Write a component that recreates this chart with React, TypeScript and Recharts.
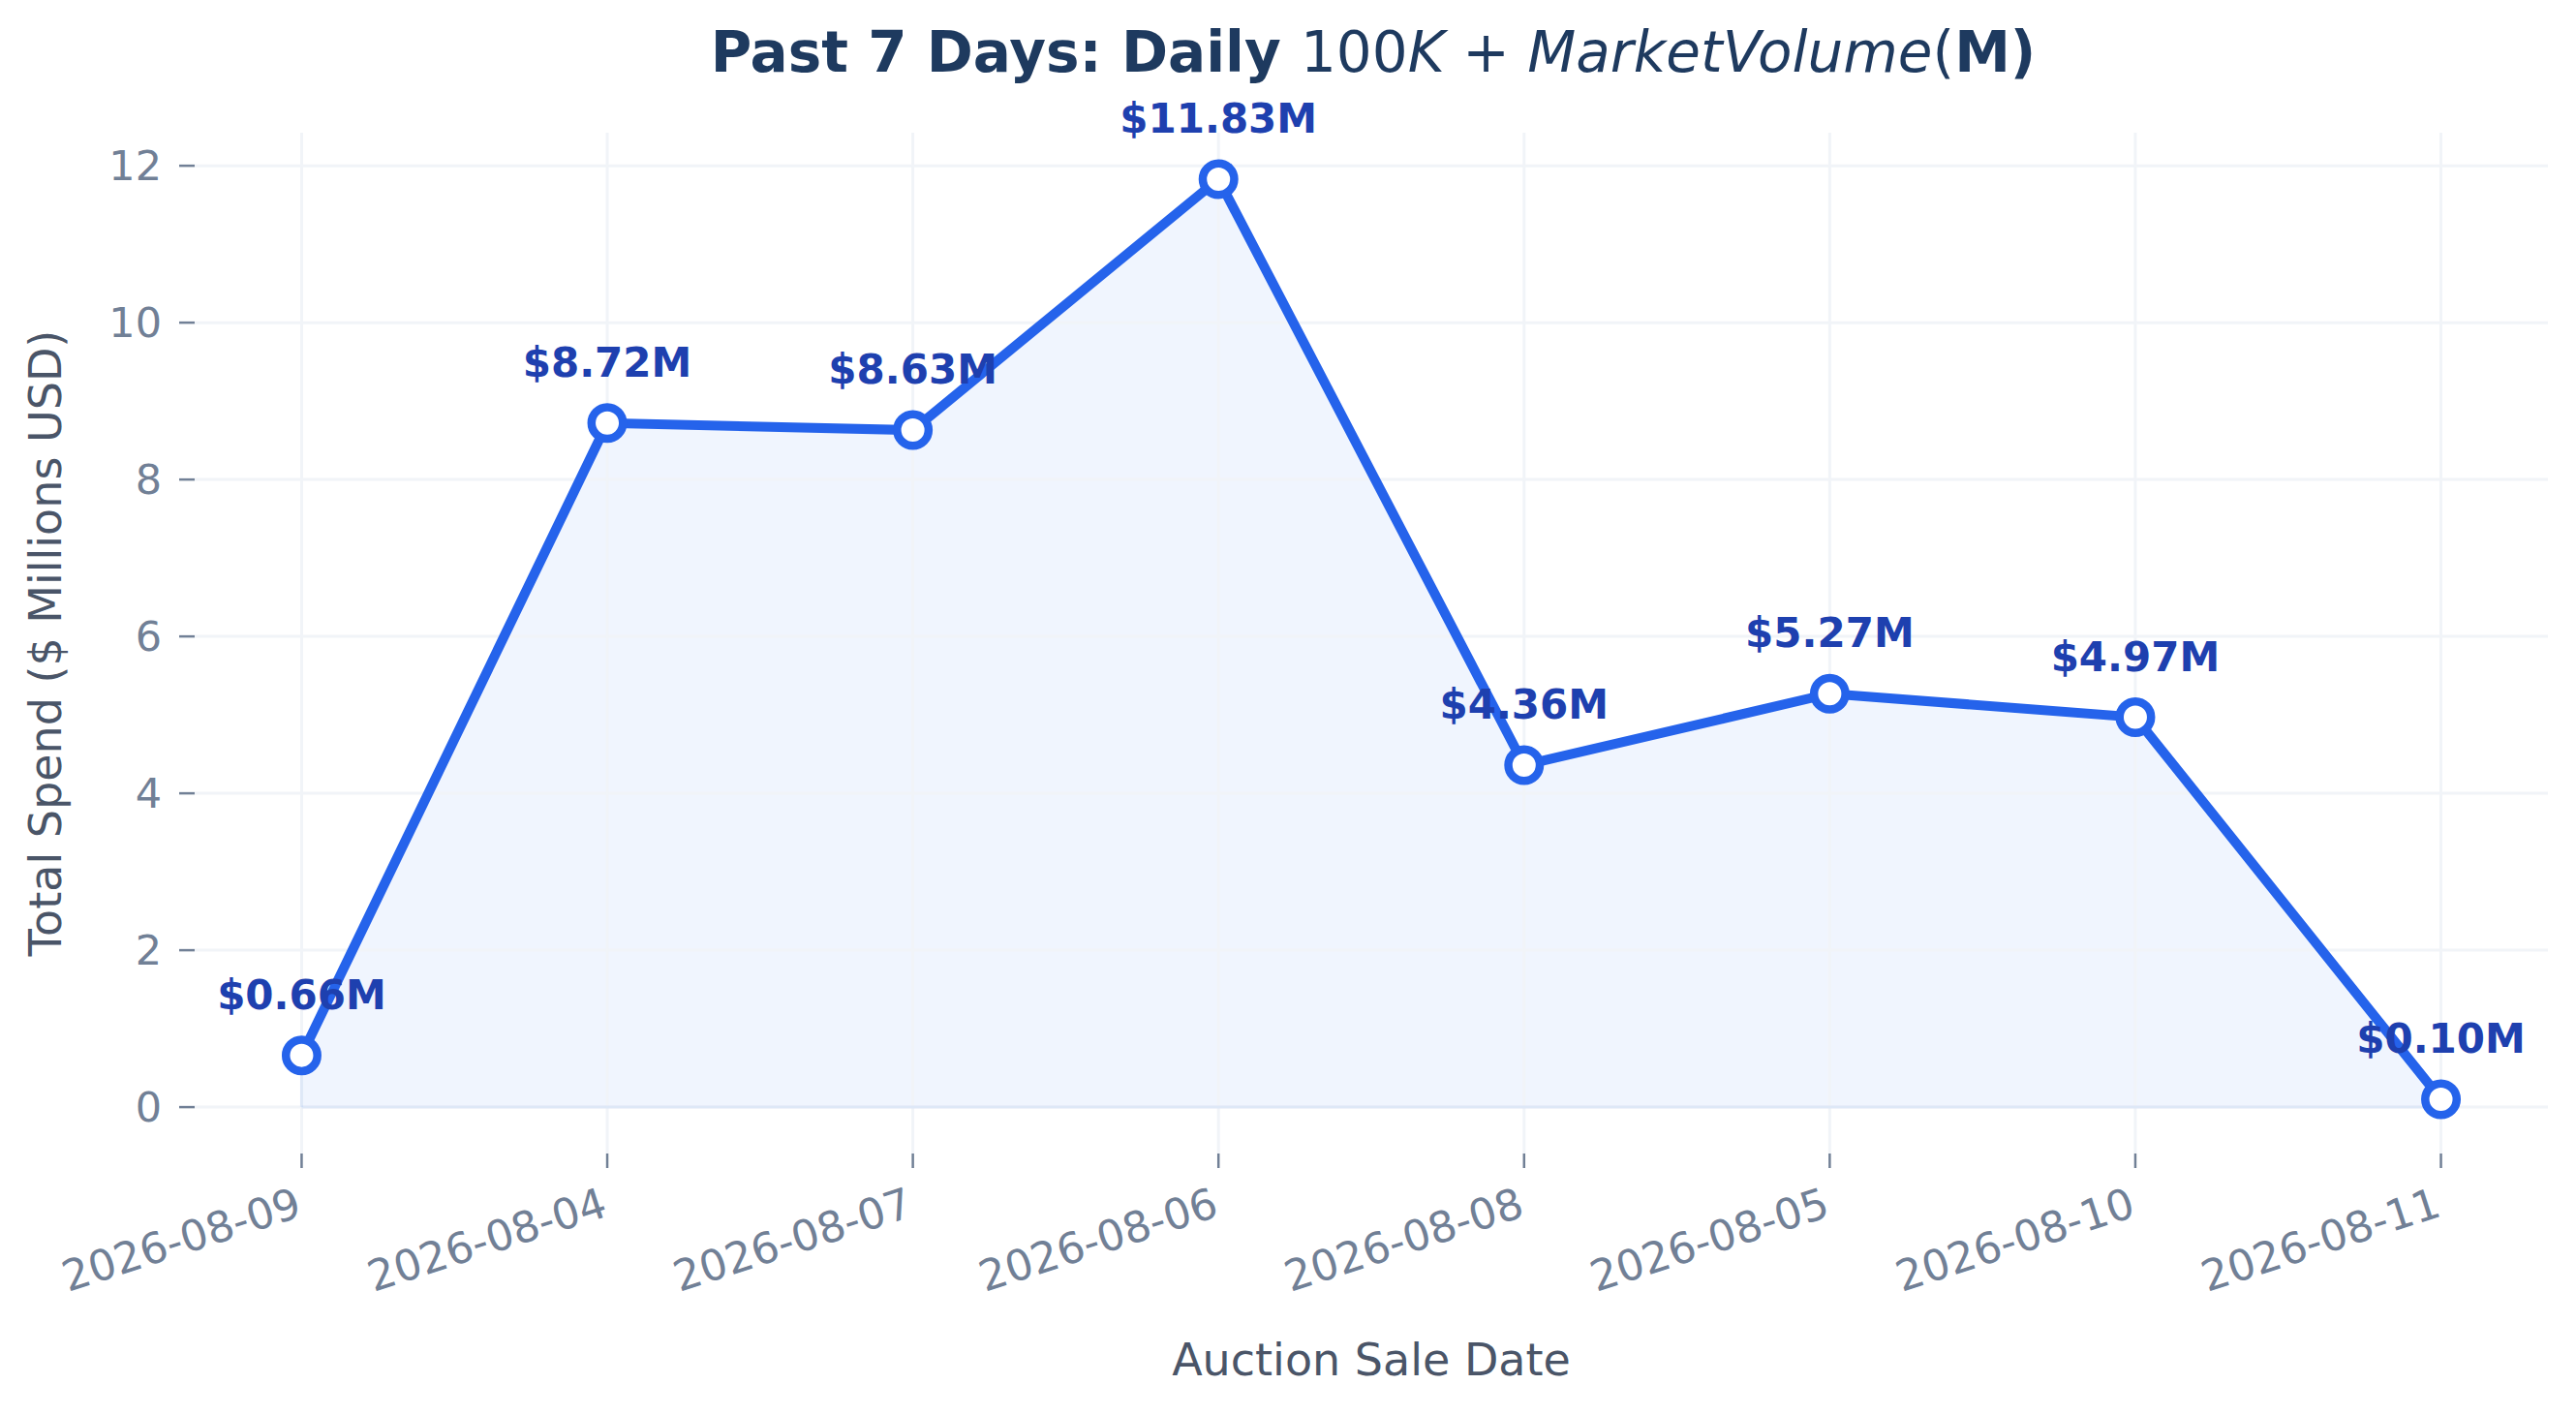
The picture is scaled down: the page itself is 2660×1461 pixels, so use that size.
import React from "react";
import {
  ComposedChart,
  Line,
  Area,
  XAxis,
  YAxis,
  LabelList,
  Label,
  ReferenceLine,
} from "recharts";

// values (in $ millions)
const saleDates = [
  "2026-08-09",
  "2026-08-04",
  "2026-08-07",
  "2026-08-06",
  "2026-08-08",
  "2026-08-05",
  "2026-08-10",
  "2026-08-11",
];
const spendMillions = [0.66, 8.72, 8.63, 11.83, 4.36, 5.27, 4.97, 0.1];
const yTicks = [0, 2, 4, 6, 8, 10, 12];

const data = saleDates.map((date, i) => ({
  idx: i,
  date,
  value: spendMillions[i],
}));
const xTicks = data.map((d) => d.idx);
const lastIdx = xTicks[xTicks.length - 1];

const W = 2660;
const H = 1461;
const FONT = "DejaVu Sans";
const TICK_COLOR = "#718096";
const LABEL_COLOR = "#4a5568";
const LINE_COLOR = "#2563eb";
const FILL_COLOR = "#3b82f6";
const GRID_COLOR = "#f1f4f8";

const XTick = (props: any) => {
  const { x, y, payload } = props;
  return (
    <g transform={`translate(${x + 2},${y + 43})`}>
      <text
        transform="rotate(-18)"
        x={0}
        y={0}
        textAnchor="end"
        fill={TICK_COLOR}
        fontSize={44}
        fontFamily={FONT}
      >
        {saleDates[payload.value]}
      </text>
    </g>
  );
};

const ValueLabel = (props: any) => {
  const { x, y, value } = props;
  return (
    <text
      x={x}
      y={y - 48}
      textAnchor="middle"
      fill="#1e40af"
      fontSize={42}
      fontWeight="bold"
      fontFamily={FONT}
    >
      {`$${Number(value).toFixed(2)}M`}
    </text>
  );
};

export default function App() {
  return (
    <div
      style={{
        position: "absolute",
        left: 0,
        top: 0,
        width: W,
        height: H,
        background: "#fff",
      }}
    >
      <svg
        width={W}
        height={140}
        style={{ position: "absolute", left: 0, top: 0, pointerEvents: "none" }}
      >
        <text
          x={1418}
          y={74}
          textAnchor="middle"
          fontSize={58}
          fontFamily={FONT}
          fill="#1e3a5f"
        >
          <tspan fontWeight="bold">Past 7 Days: Daily </tspan>
          <tspan>100</tspan>
          <tspan fontStyle="italic">K</tspan>
          <tspan> + </tspan>
          <tspan fontStyle="italic">MarketVolume</tspan>
          <tspan>(</tspan>
          <tspan fontWeight="bold">M)</tspan>
        </text>
      </svg>
      <ComposedChart
        width={W}
        height={H}
        data={data}
        margin={{ top: 137, right: 29, left: 21, bottom: 20 }}
      >
        {/* light grid at the tick positions */}
        {yTicks.map((t) => (
          <ReferenceLine key={`gy${t}`} y={t} stroke={GRID_COLOR} strokeWidth={3} />
        ))}
        {xTicks.map((t) => (
          <ReferenceLine key={`gx${t}`} x={t} stroke={GRID_COLOR} strokeWidth={3} />
        ))}
        <XAxis
          dataKey="idx"
          type="number"
          domain={[-0.35, 7.35]}
          ticks={xTicks}
          interval={0}
          allowDataOverflow
          axisLine={false}
          tickSize={15}
          tickMargin={6}
          tickLine={{ stroke: TICK_COLOR, strokeWidth: 2.5 }}
          tick={<XTick />}
          height={250}
        >
          <Label
            content={(p: any) => {
              const vb = p.viewBox;
              return (
                <text
                  x={vb.x + vb.width / 2}
                  y={vb.y + 229}
                  textAnchor="middle"
                  fill={LABEL_COLOR}
                  fontSize={46}
                  fontFamily={FONT}
                >
                  Auction Sale Date
                </text>
              );
            }}
          />
        </XAxis>
        <YAxis
          type="number"
          domain={[-0.5915, 12.4215]}
          ticks={yTicks}
          allowDataOverflow
          axisLine={false}
          width={180}
          tickSize={16}
          tickMargin={18}
          tickLine={{ stroke: TICK_COLOR, strokeWidth: 2.5 }}
          tick={{ fill: TICK_COLOR, fontSize: 43, fontFamily: FONT }}
        >
          <Label
            content={(p: any) => {
              const vb = p.viewBox;
              const cx = vb.x + 26;
              const cy = vb.y + vb.height / 2;
              return (
                <text
                  x={cx}
                  y={cy}
                  transform={`rotate(-90, ${cx}, ${cy})`}
                  textAnchor="middle"
                  dominantBaseline="central"
                  fill={LABEL_COLOR}
                  fontSize={46}
                  fontFamily={FONT}
                >
                  Total Spend ($ Millions USD)
                </text>
              );
            }}
          />
        </YAxis>
        <Area
          dataKey="value"
          type="linear"
          baseValue={0}
          stroke="none"
          fill={FILL_COLOR}
          fillOpacity={0.08}
          isAnimationActive={false}
          activeDot={false}
        />
        <ReferenceLine
          segment={[
            { x: 0, y: 0 },
            { x: lastIdx, y: 0 },
          ]}
          stroke={FILL_COLOR}
          strokeOpacity={0.1}
          strokeWidth={3}
        />
        <ReferenceLine
          segment={[
            { x: 0, y: 0 },
            { x: 0, y: spendMillions[0] },
          ]}
          stroke={FILL_COLOR}
          strokeOpacity={0.1}
          strokeWidth={3}
        />
        <Line
          dataKey="value"
          type="linear"
          stroke={LINE_COLOR}
          strokeWidth={10}
          dot={{ r: 16.25, fill: "#ffffff", stroke: LINE_COLOR, strokeWidth: 8.5 }}
          activeDot={false}
          isAnimationActive={false}
        >
          <LabelList dataKey="value" content={<ValueLabel />} />
        </Line>
      </ComposedChart>
    </div>
  );
}
